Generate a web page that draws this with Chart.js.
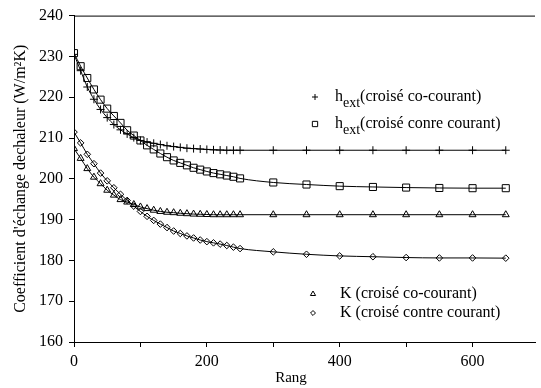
<!DOCTYPE html>
<html>
<head>
<meta charset="utf-8">
<script src="https://cdn.jsdelivr.net/npm/chart.js@4.4.1/dist/chart.umd.min.js"></script>
<style>
  html, body { margin: 0; padding: 0; background: #fff; overflow: hidden; }
  #wrap { width: 541px; height: 388px; }
</style>
</head>
<body>
<div id="wrap"><canvas id="myChart" width="541" height="388"></canvas></div>
<script>
// Rang (x values)
const rang = [0, 10, 20, 30, 40, 50, 60, 70, 80, 90, 100, 110, 120, 130, 140, 150, 160, 170, 180, 190, 200,
              210, 220, 230, 240, 250, 300, 350, 400, 450, 500, 550, 600, 650];

// h ext (croisé co-courant)
const hCo = [230.5, 226.5, 222.5, 219.5, 217.0, 215.0, 213.3, 212.0, 211.0, 210.1, 209.4, 209.0, 208.7, 208.4, 208.1,
             207.9, 207.7, 207.5, 207.4, 207.3, 207.2, 207.1, 207.05, 207.0, 207.0, 207.0,
             207.0, 207.0, 207.0, 207.0, 207.0, 207.0, 207.0, 207.0];

// h ext (croisé conre courant)
const hContre = [230.8, 227.6, 224.7, 221.9, 219.4, 217.2, 215.4, 213.7, 211.9, 210.6, 209.4, 208.2, 207.2, 206.2, 205.3,
                 204.5, 203.9, 203.3, 202.7, 202.25, 201.8, 201.4, 201.1, 200.8, 200.5, 200.1,
                 199.1, 198.6, 198.2, 198.0, 197.85, 197.75, 197.7, 197.7];

// K (croisé co-courant)
const kCo = [207.4, 205.0, 202.5, 200.4, 198.8, 197.2, 196.0, 194.9, 194.3, 193.7, 193.1, 192.7, 192.3, 192.0, 191.8,
             191.7, 191.55, 191.45, 191.35, 191.3, 191.25, 191.2, 191.2, 191.2, 191.2, 191.2,
             191.2, 191.2, 191.2, 191.2, 191.2, 191.2, 191.2, 191.2];

// K (croisé contre courant)
const kContre = [211.45, 208.8, 206.0, 203.7, 201.4, 199.5, 197.8, 196.2, 194.7, 193.3, 192.0, 190.8, 189.8, 188.9, 188.05,
                 187.2, 186.6, 186.0, 185.5, 185.0, 184.6, 184.3, 184.0, 183.65, 183.25, 182.9,
                 182.1, 181.5, 181.1, 180.9, 180.7, 180.6, 180.6, 180.55];

const xTicks = [0, 100, 200, 300, 400, 500, 600];
const yTicks = [160, 170, 180, 190, 200, 210, 220, 230, 240];

const FONT = 'Liberation Serif';

function pts(ys) {
    return rang.map((x, i) => ({ x: x, y: ys[i] }));
}

function serie(label, ys, style, r) {
    return {
        label: label,
        data: pts(ys),
        borderColor: '#000',
        borderWidth: 1,
        pointStyle: style,
        pointRadius: r,
        pointBorderColor: '#000',
        pointBackgroundColor: 'rgba(0,0,0,0)',
        pointBorderWidth: 1,
        tension: 0.4,
        cubicInterpolationMode: 'monotone',
        fill: false
    };
}

// Legend, top border and x title drawn by hand
const extras = {
    id: 'extras',
    afterDraw(chart) {
        const ctx = chart.ctx;
        const a = chart.chartArea;
        ctx.save();
        ctx.strokeStyle = '#000';
        ctx.lineWidth = 1;
        ctx.beginPath();
        ctx.moveTo(a.left, a.top + 0.5);
        ctx.lineTo(a.right, a.top + 0.5);
        ctx.stroke();

        ctx.textBaseline = 'middle';
        ctx.textAlign = 'left';

        const items = [
            { ds: 0, x: 315, y: 97, tx: 335, main: 'h', sub: 'ext', rest: '(croisé co-courant)' },
            { ds: 1, x: 315, y: 124, tx: 335, main: 'h', sub: 'ext', rest: '(croisé conre courant)' },
            { ds: 2, x: 313, y: 294, tx: 340, main: 'K (croisé co-courant)' },
            { ds: 3, x: 313, y: 313, tx: 340, main: 'K (croisé contre courant)' }
        ];
        items.forEach(it => {
            const d = chart.data.datasets[it.ds];
            ctx.fillStyle = 'rgba(0,0,0,0)';
            ctx.strokeStyle = '#000';
            Chart.helpers.drawPoint(ctx, {
                pointStyle: d.pointStyle, radius: d.pointRadius * 0.75, borderWidth: 1
            }, it.x, it.y);
            ctx.fillStyle = '#000';
            ctx.font = '16px "' + FONT + '"';
            ctx.fillText(it.main, it.tx, it.y);
            if (it.sub) {
                let x = it.tx + ctx.measureText(it.main).width;
                ctx.font = '14px "' + FONT + '"';
                ctx.fillText(it.sub, x, it.y + 6);
                x += ctx.measureText(it.sub).width;
                ctx.font = '16px "' + FONT + '"';
                ctx.fillText(it.rest, x, it.y);
            }
        });

        ctx.font = '15px "' + FONT + '"';
        ctx.textAlign = 'center';
        ctx.fillText('Rang', 291, 378);
        ctx.restore();
    }
};

const config = {
    type: 'line',
    data: {
        datasets: [
            serie('h ext (croisé co-courant)', hCo, 'cross', 4),
            serie('h ext (croisé conre courant)', hContre, 'rect', 5),
            serie('K (croisé co-courant)', kCo, 'triangle', 4),
            serie('K (croisé contre courant)', kContre, 'rectRot', 3.3)
        ]
    },
    options: {
        responsive: false,
        animation: false,
        layout: { padding: { top: 15, right: 0, left: 0, bottom: 0 } },
        plugins: {
            legend: { display: false },
            tooltip: { enabled: false }
        },
        scales: {
            x: {
                type: 'linear',
                min: 0,
                max: 694,
                afterBuildTicks: s => { s.ticks = xTicks.map(v => ({ value: v })); },
                afterFit: s => { s.height = 46; },
                ticks: {
                    autoSkip: false,
                    color: '#000',
                    font: { family: FONT, size: 16 },
                    padding: 5,
                    maxRotation: 0,
                    callback: v => (v % 200 === 0 ? String(v) : '')
                },
                grid: { drawOnChartArea: false, drawTicks: true, tickLength: 5, color: '#000' },
                border: { color: '#000', width: 1 }
            },
            y: {
                min: 160,
                max: 240,
                afterBuildTicks: s => { s.ticks = yTicks.map(v => ({ value: v })); },
                afterFit: s => { s.width = 74; },
                ticks: {
                    autoSkip: false,
                    color: '#000',
                    font: { family: FONT, size: 16 },
                    padding: 6
                },
                grid: { drawOnChartArea: false, drawTicks: true, tickLength: 5, color: '#000' },
                border: { color: '#000', width: 1 },
                title: {
                    display: true,
                    text: "Coefficient d'échange dechaleur (W/m²K)",
                    color: '#000',
                    font: { family: FONT, size: 16 },
                    padding: { top: 11, bottom: 0 }
                }
            }
        }
    },
    plugins: [extras]
};

const myChart = new Chart(document.getElementById('myChart'), config);
</script>
</body>
</html>
